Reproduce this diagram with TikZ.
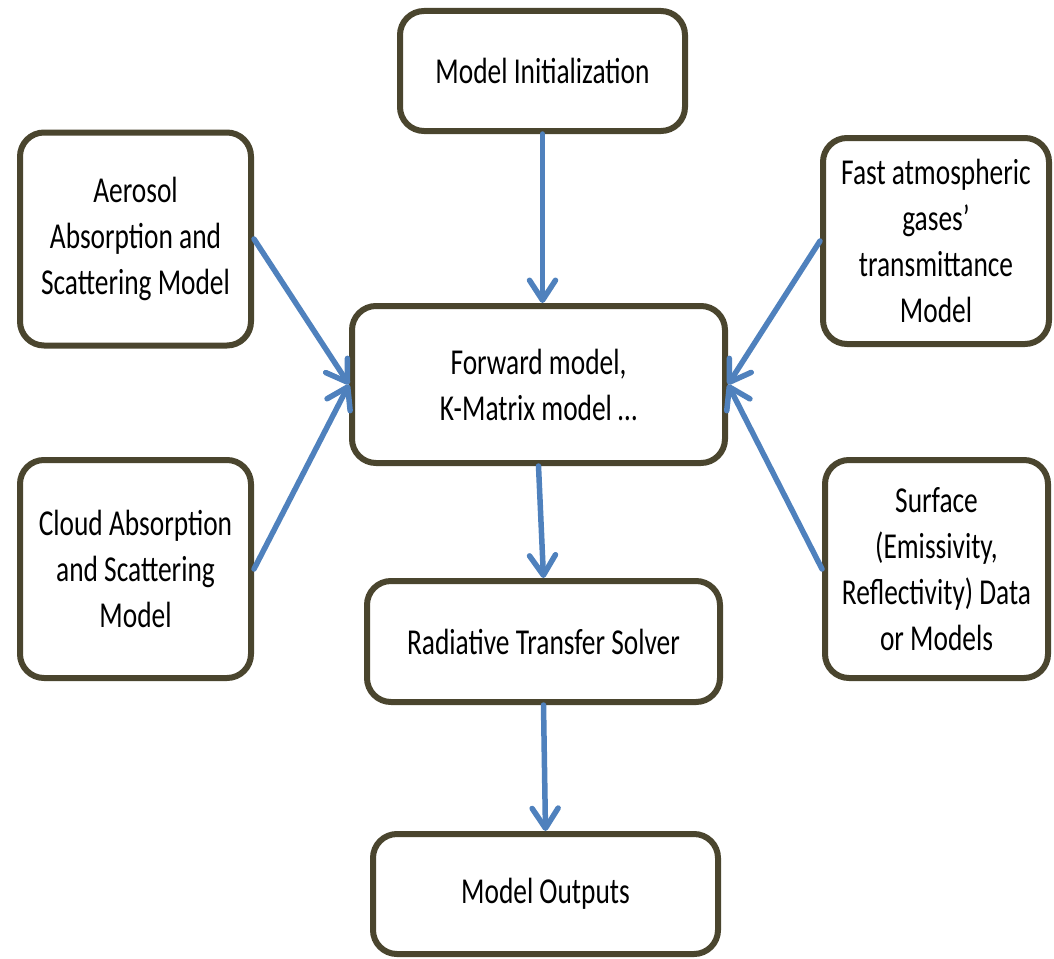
\documentclass[tikz,border=0pt]{standalone}
\usepackage{fontspec}
\setmainfont{Carlito}[FakeStretch=0.75]
\usetikzlibrary{arrows.meta}
\definecolor{boxline}{RGB}{74,69,46}
\definecolor{arrowblue}{RGB}{79,129,189}
\tikzset{
  box/.style={draw=boxline, line width=6pt, rounded corners=24pt, fill=white,
    align=center, inner sep=0pt,
    font=\fontsize{36.5}{46}\selectfont},
  flow/.style={draw=arrowblue, line width=5.5pt, line cap=round,
    -{Straight Barb[length=20pt,width=26pt,round]}}
}
\begin{document}
\begin{tikzpicture}[x=1pt,y=-1pt]
\useasboundingbox (0,0) rectangle (1054,958);
\node[box, minimum width=285pt, minimum height=120pt] (init) at (542.5,71) {Model Initialization};
\node[box, minimum width=231pt, minimum height=213pt] (aer) at (135.5,239) {Aerosol\\Absorption and\\Scattering Model};
\node[box, minimum width=226pt, minimum height=206pt] (fast) at (936,241) {Fast atmospheric\\gases’\\transmittance\\Model};
\node[box, minimum width=373pt, minimum height=157pt] (fwd) at (538.5,384.5) {Forward model,\\K-Matrix model …};
\node[box, minimum width=231pt, minimum height=218pt] (cloud) at (135.5,569) {Cloud Absorption\\and Scattering\\Model};
\node[box, minimum width=223pt, minimum height=218pt] (surf) at (936.5,569) {Surface\\(Emissivity,\\Reflectivity) Data\\or Models};
\node[box, minimum width=353pt, minimum height=121pt] (rts) at (543.5,641.5) {Radiative Transfer Solver};
\node[box, minimum width=345pt, minimum height=120pt] (out) at (545.5,894) {Model Outputs};
\draw[flow] (init.south) -- (init.south |- fwd.north);
\draw[flow] (aer.east) -- (fwd.west);
\draw[flow] (cloud.east) -- (fwd.west);
\draw[flow] (fast.west) -- (fwd.east);
\draw[flow] (surf.west) -- (fwd.east);
\draw[flow] (fwd.south) -- (rts.north);
\draw[flow] (rts.south) -- (out.north);
\end{tikzpicture}
\end{document}
